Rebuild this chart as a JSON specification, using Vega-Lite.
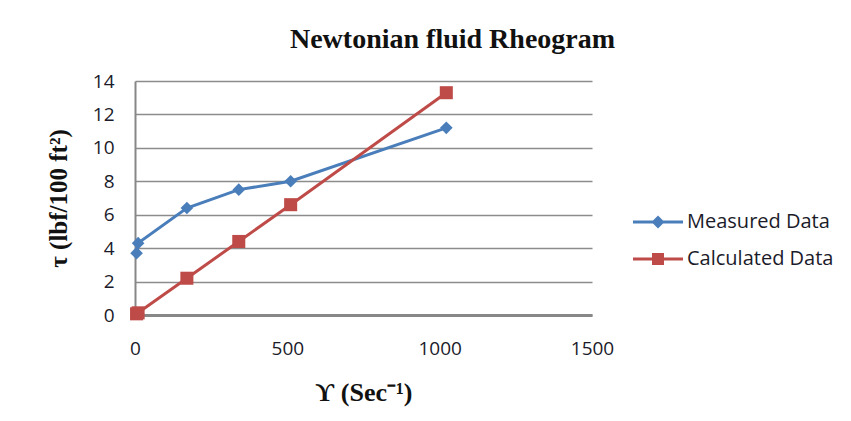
{
  "$schema": "https://vega.github.io/schema/vega-lite/v6.json",
  "autosize": "none",
  "width": 457,
  "height": 234,
  "padding": {"left": 135, "top": 81, "right": 259, "bottom": 106},
  "background": "white",
  "title": {
    "text": "Newtonian fluid Rheogram",
    "font": "Liberation Serif",
    "fontSize": 28,
    "fontWeight": "bold",
    "color": "#111111",
    "anchor": "middle",
    "frame": "group",
    "dx": 89,
    "baseline": "alphabetic",
    "offset": -4
  },
  "data": {
    "values": [
      {"rate": 5.11, "tau": 3.7, "series": "Measured Data"},
      {"rate": 10.22, "tau": 4.3, "series": "Measured Data"},
      {"rate": 170.3, "tau": 6.4, "series": "Measured Data"},
      {"rate": 340.6, "tau": 7.5, "series": "Measured Data"},
      {"rate": 510.9, "tau": 8.0, "series": "Measured Data"},
      {"rate": 1021.8, "tau": 11.2, "series": "Measured Data"},
      {"rate": 5.11, "tau": 0.07, "series": "Calculated Data"},
      {"rate": 10.22, "tau": 0.13, "series": "Calculated Data"},
      {"rate": 170.3, "tau": 2.2, "series": "Calculated Data"},
      {"rate": 340.6, "tau": 4.4, "series": "Calculated Data"},
      {"rate": 510.9, "tau": 6.6, "series": "Calculated Data"},
      {"rate": 1021.8, "tau": 13.3, "series": "Calculated Data"}
    ]
  },
  "encoding": {
    "x": {
      "field": "rate",
      "type": "quantitative",
      "scale": {"domain": [0, 1500], "nice": false},
      "axis": {
        "title": "ϒ (Sec⁻¹)",
        "titleFont": "Liberation Serif",
        "titleFontSize": 26,
        "titleFontWeight": "bold",
        "titleColor": "#111111",
        "titlePadding": 21,
        "values": [0, 500, 1000, 1500],
        "format": "d",
        "grid": false,
        "ticks": false,
        "domainColor": "#878787",
        "domainWidth": 3,
        "labelFont": "Open Sans",
        "labelFontSize": 19,
        "labelColor": "#1b1b2a",
        "labelPadding": 24,
        "labelFlush": false
      }
    },
    "y": {
      "field": "tau",
      "type": "quantitative",
      "scale": {"domain": [0, 14], "nice": false},
      "axis": {
        "title": "τ (lbf/100 ft²)",
        "titleFont": "Liberation Serif",
        "titleFontSize": 25,
        "titleFontWeight": "bold",
        "titleColor": "#111111",
        "titlePadding": 21,
        "values": [0, 2, 4, 6, 8, 10, 12, 14],
        "grid": true,
        "gridColor": "#8c8c8c",
        "gridWidth": 1.5,
        "ticks": false,
        "domainColor": "#878787",
        "domainWidth": 2,
        "labelFont": "Open Sans",
        "labelFontSize": 19,
        "labelColor": "#1b1b2a",
        "labelPadding": 21
      }
    },
    "color": {
      "field": "series",
      "type": "nominal",
      "scale": {"domain": ["Measured Data", "Calculated Data"], "range": ["#4a7ebb", "#be4b48"]},
      "legend": {
        "title": null,
        "orient": "none",
        "legendX": 493,
        "legendY": 131,
        "padding": 0,
        "symbolSize": 100,
        "labelOffset": 39,
        "rowPadding": 17,
        "labelFont": "Open Sans",
        "labelFontSize": 20,
        "labelColor": "#1b1b2a",
        "encode": {
          "symbols": {
            "update": {
              "shape": {"signal": "datum.value === 'Measured Data' ? 'M-1,-0.3H9V0.3H-1Z M4,-1.3L5.3,0L4,1.3L2.7,0Z' : 'M-1,-0.3H9V0.3H-1Z M2.8,-1.2H5.2V1.2H2.8Z'"},
              "fill": {"signal": "datum.value === 'Measured Data' ? '#4a7ebb' : '#be4b48'"},
              "fillOpacity": {"value": 1},
              "opacity": {"value": 1},
              "strokeWidth": {"value": 0}
            }
          }
        }
      }
    }
  },
  "layer": [
    {
      "mark": {"type": "line", "strokeWidth": 3},
      "encoding": {"order": {"field": "rate", "type": "quantitative"}}
    },
    {
      "transform": [{"filter": "datum.series === 'Measured Data'"}],
      "mark": {"type": "point", "shape": "diamond", "filled": true, "opacity": 1, "size": 160}
    },
    {
      "transform": [{"filter": "datum.series === 'Calculated Data'"}],
      "mark": {"type": "point", "shape": "square", "filled": true, "opacity": 1, "size": 170}
    }
  ],
  "config": {"view": {"stroke": null}}
}
